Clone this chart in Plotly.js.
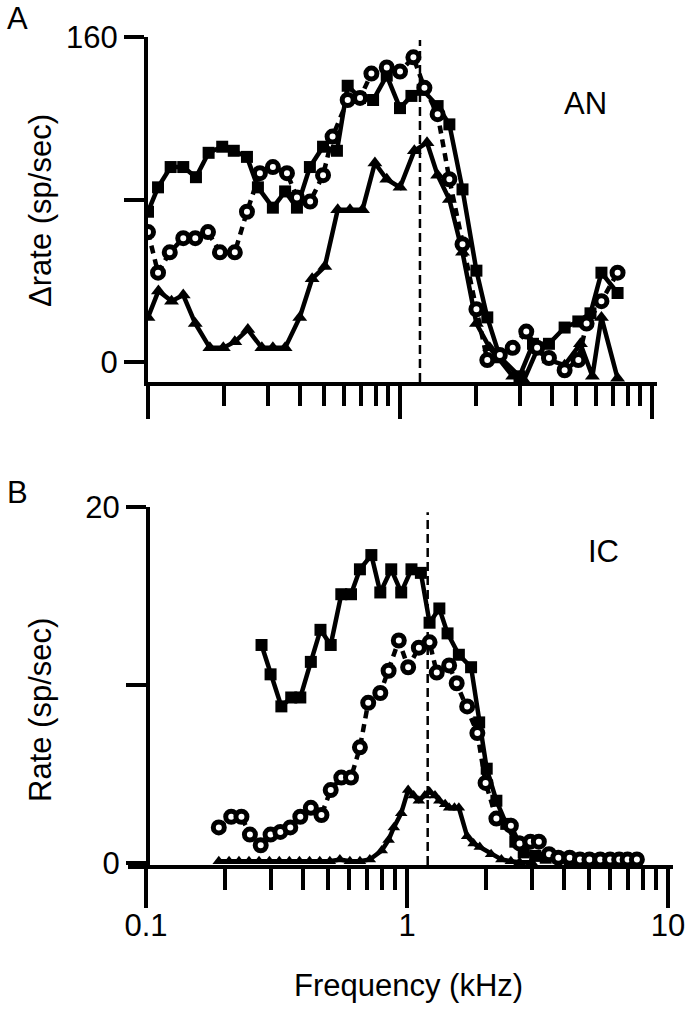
<!DOCTYPE html>
<html>
<head>
<meta charset="utf-8">
<script src="https://cdn.plot.ly/plotly-3.0.1.min.js"></script>
<style>
  html, body { margin: 0; padding: 0; background: #fff; }
  #plot { width: 698px; height: 1012px; }
</style>
</head>
<body>
<div id="plot"></div>
<script>
// ---- data (frequency in kHz, rates in sp/sec) ----

// panel A (AN)
var freqA_sq = [0.1, 0.1096, 0.123, 0.138, 0.155, 0.174, 0.197, 0.219, 0.247, 0.273, 0.313, 0.35, 0.39,
  0.439, 0.495, 0.562, 0.62, 0.694, 0.782, 0.886, 1.0, 1.11, 1.23, 1.41, 1.57, 1.77, 2.01, 2.22, 2.49,
  2.98, 3.37, 3.9, 4.5, 5.1, 5.7, 6.3, 7.3];
var rateA_sq = [74, 86, 96, 96, 91, 103, 106, 104, 101, 86, 76, 84, 76,
  96, 106, 104, 136, 130, 129, 141, 125, 131, 134, 126, 117, 85, 45, 22, 2.5,
  -7, 9, 9, 17, 20, 24, 44, 34];

var freqA_ci = [0.1, 0.1096, 0.122, 0.138, 0.154, 0.173, 0.193, 0.221, 0.247, 0.278, 0.313, 0.356, 0.39,
  0.44, 0.495, 0.54, 0.62, 0.694, 0.77, 0.886, 1.0, 1.13, 1.25, 1.41, 1.57, 1.77, 2.01, 2.22, 2.49,
  2.8, 3.17, 3.5, 3.9, 4.5, 5.1, 5.5, 6.3, 7.3];
var rateA_ci = [64, 44, 54, 61, 61, 64, 54, 54, 74, 93, 96, 93, 81,
  79, 92, 111, 129, 130, 142, 145, 143, 150, 135, 122, 90, 58, 26, 1, 3.5,
  7, 15, 7, 2, -4, 1, 19, 30, 44];

var freqA_tr = [0.1, 0.11, 0.124, 0.138, 0.154, 0.176, 0.199, 0.221, 0.249, 0.283, 0.313, 0.35, 0.4,
  0.448, 0.503, 0.566, 0.633, 0.71, 0.795, 0.886, 1.0, 1.14, 1.28, 1.41, 1.57, 1.77, 2.01, 2.27, 2.49,
  2.8, 3.1, 3.5, 3.9, 4.5, 5.2, 5.8, 6.3, 7.3];
var rateA_tr = [22, 35, 30, 33, 19, 7, 7, 10, 16, 7, 7, 7, 22,
  41, 47, 75, 75, 75, 98, 90, 86, 104, 108, 92, 80, 54, 19, 7, 1,
  -7, -9, 6, 1, -1.5, 9, -7, 22, -8];

// panel B (IC)
var freqB_sq = [0.277, 0.3, 0.33, 0.36, 0.39, 0.428, 0.466, 0.51, 0.56, 0.61, 0.66, 0.73, 0.79, 0.87,
  0.95, 1.04, 1.13, 1.22, 1.33, 1.43, 1.58, 1.76, 1.89, 2.02, 2.2, 2.4, 2.6, 2.8, 3.1, 3.4, 3.8,
  4.2, 4.6, 5.1, 5.6, 6.2, 6.8, 7.5];
var rateB_sq = [12.25, 10.6, 8.8, 9.3, 9.3, 11.3, 13.1, 12.25, 15.1, 15.1, 16.5, 17.3, 15.2, 16.5,
  15.2, 16.5, 16.3, 13.5, 14.3, 12.9, 11.7, 11, 7.9, 5.3, 3.5, 2.2, 1.2, 0.6, 0.4, 0.3, 0.3,
  0.2, 0.2, 0.2, 0.2, 0.2, 0.2, 0.2];

var freqB_ci = [0.19, 0.212, 0.232, 0.25, 0.275, 0.3, 0.327, 0.357, 0.39, 0.428, 0.47, 0.51, 0.56, 0.61,
  0.66, 0.71, 0.79, 0.85, 0.93, 1.01, 1.11, 1.22, 1.3, 1.45, 1.55, 1.7, 1.86, 2.0, 2.2, 2.5, 2.7,
  2.97, 3.2, 3.5, 3.8, 4.2, 4.6, 5.0, 5.5, 6.0, 6.5, 7.0, 7.6];
var rateB_ci = [2.0, 2.6, 2.6, 1.6, 1.0, 1.6, 1.75, 2.0, 2.6, 3.1, 2.7, 4.1, 4.8, 4.8,
  6.5, 9.0, 9.55, 10.8, 12.5, 11, 12.1, 12.4, 10.7, 11.1, 10.1, 8.8, 7.3, 4.5, 2.5, 2.1, 1.1,
  1.2, 1.2, 0.5, 0.3, 0.3, 0.2, 0.2, 0.2, 0.2, 0.2, 0.2, 0.2];

var freqB_tr = [0.19, 0.208, 0.227, 0.248, 0.271, 0.297, 0.324, 0.354, 0.387, 0.423, 0.463, 0.506,
  0.553, 0.604, 0.66, 0.72, 0.8, 0.85, 0.89, 0.95, 1.01, 1.06, 1.11, 1.17, 1.22, 1.28, 1.33, 1.4,
  1.45, 1.52, 1.58, 1.7, 1.8, 1.9, 2.1, 2.3, 2.5, 2.7, 3.0];
var rateB_tr = [0.1, 0.1, 0.1, 0.1, 0.1, 0.1, 0.1, 0.1, 0.1, 0.1, 0.1, 0.1,
  0.2, 0.1, 0.1, 0.2, 0.7, 1.3, 2.0, 2.8, 4.1, 3.8, 3.5, 3.8, 4.0, 3.8, 3.5, 3.3,
  3.1, 3.1, 3.1, 1.5, 1.1, 0.9, 0.5, 0.2, 0.1, 0.05, 0.05];

// best frequency marker (dashed line)
var bfA = [1.2, 1.2], bfA_y = [-9.8, 158.5];
var bfB = [1.2, 1.2], bfB_y = [-0.11, 19.7];

var minorVals = [0.2, 0.3, 0.4, 0.5, 0.6, 0.7, 0.8, 0.9, 2, 3, 4, 5, 6, 7, 8, 9];

// ---- styles ----
var FONT = 'Liberation Sans, Arial, Helvetica, sans-serif';
var W = 698, H = 1012;

function sq(x, y, xa, ya) {
  return {x: x, y: y, xaxis: xa, yaxis: ya, type: 'scatter', mode: 'lines+markers',
    line: {color: 'black', width: 4.5},
    marker: {symbol: 'square', size: 12, color: 'black'}};
}
function ci(x, y, xa, ya) {
  return {x: x, y: y, xaxis: xa, yaxis: ya, type: 'scatter', mode: 'lines+markers',
    line: {color: 'black', width: 4.5, dash: '8px,6px'},
    marker: {symbol: 'circle', size: 11, color: 'white', line: {color: 'black', width: 5}}};
}
function tr(x, y, xa, ya, s) {
  return {x: x, y: y, xaxis: xa, yaxis: ya, type: 'scatter', mode: 'lines+markers',
    line: {color: 'black', width: 4.5},
    marker: {symbol: 'triangle-up', size: s, color: 'black'}};
}
function bf(x, y, xa, ya) {
  return {x: x, y: y, xaxis: xa, yaxis: ya, type: 'scatter', mode: 'lines',
    line: {color: 'black', width: 2.5, dash: '9px,5px'}, hoverinfo: 'skip'};
}

var data = [
  bf(bfA, bfA_y, 'x', 'y'),
  tr(freqA_tr, rateA_tr, 'x', 'y', 13),
  sq(freqA_sq, rateA_sq, 'x', 'y'),
  ci(freqA_ci, rateA_ci, 'x', 'y'),
  bf(bfB, bfB_y, 'x2', 'y2'),
  tr(freqB_tr, rateB_tr, 'x2', 'y2', 11),
  sq(freqB_sq, rateB_sq, 'x2', 'y2'),
  ci(freqB_ci, rateB_ci, 'x2', 'y2')
];

var axisCommon = {
  showline: true, linecolor: 'black', linewidth: 4,
  showgrid: false, zeroline: false,
  ticks: 'outside', tickcolor: 'black', tickwidth: 4,
  tickfont: {family: FONT, size: 31, color: 'black'}
};

function ann(text, px, py, extra) {
  var a = {text: text, x: px / W, y: 1 - py / H, xref: 'paper', yref: 'paper',
    xanchor: 'center', yanchor: 'middle', showarrow: false,
    font: {family: FONT, size: 31, color: 'black'}};
  for (var k in extra) a[k] = extra[k];
  return a;
}

var layout = {
  width: W, height: H,
  margin: {l: 0, r: 0, t: 0, b: 0},
  paper_bgcolor: 'white', plot_bgcolor: 'white',
  showlegend: false,
  xaxis: Object.assign({}, axisCommon, {
    type: 'log', range: [-1, 1.0198], domain: [148 / W, 657 / W], anchor: 'y',
    tickmode: 'array', tickvals: [0.1, 1, 10], ticklen: 33, showticklabels: false,
    minor: {tickmode: 'array', tickvals: minorVals, ticks: 'outside', ticklen: 20, tickwidth: 4, tickcolor: 'black'}
  }),
  yaxis: Object.assign({}, axisCommon, {
    range: [-9.8, 160], domain: [1 - 382 / H, 1 - 37 / H], anchor: 'x',
    tickmode: 'array', tickvals: [0, 160], ticktext: ['0', '160'], ticklen: 20,
    minor: {tickmode: 'array', tickvals: [80], ticks: 'outside', ticklen: 20, tickwidth: 4, tickcolor: 'black'}
  }),
  xaxis2: Object.assign({}, axisCommon, {
    type: 'log', range: [-1.0692, 1.0192], domain: [128 / W, 673 / W], anchor: 'y2',
    tickmode: 'array', tickvals: [0.1, 1, 10], ticktext: ['0.1', '1', '10'], ticklen: 39,
    ticklabelstandoff: -9,
    minor: {tickmode: 'array', tickvals: minorVals, ticks: 'outside', ticklen: 21, tickwidth: 4, tickcolor: 'black'}
  }),
  yaxis2: Object.assign({}, axisCommon, {
    range: [-0.11, 20], domain: [1 - 865 / H, 1 - 507 / H], anchor: 'free', position: 148 / W,
    tickmode: 'array', tickvals: [0, 20], ticktext: ['0', '20'], ticklen: 20,
    minor: {tickmode: 'array', tickvals: [10], ticks: 'outside', ticklen: 20, tickwidth: 4, tickcolor: 'black'}
  }),
  annotations: [
    ann('A', 17, 18),
    ann('B', 17, 492),
    ann('AN', 585, 104),
    ann('IC', 603, 551),
    ann('Δrate (sp/sec)', 40, 211, {textangle: -90}),
    ann('Rate (sp/sec)', 40, 710, {textangle: -90}),
    ann('Frequency (kHz)', 408, 985)
  ]
};

Plotly.newPlot('plot', data, layout, {staticPlot: true});
</script>
</body>
</html>
